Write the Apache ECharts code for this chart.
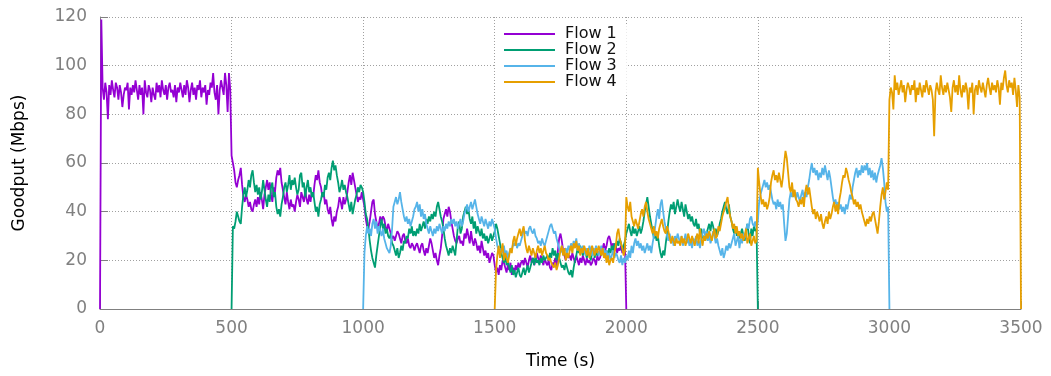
<!DOCTYPE html>
<html>
<head>
<meta charset="utf-8">
<script src="https://cdn.jsdelivr.net/npm/echarts@6/dist/echarts.min.js"></script>
<style>
  html, body { margin: 0; padding: 0; background: #fff; }
  #chart { width: 1051px; height: 376px; }
</style>
</head>
<body>
<div id="chart"></div>
<script>
// Goodput samples, one value every sampleStep seconds, starting at each flow's start time.
const sampleStep = 5;
const flowNames = ['Flow 1', 'Flow 2', 'Flow 3', 'Flow 4'];
const flowStarts = [0, 500, 1000, 1500];
const flowColors = ['#9400d3', '#009e73', '#56b4e9', '#e69f00'];

const flow1Values = [
  0, 119, 91, 86, 93, 89, 78, 92, 88, 94, 90, 87, 93, 91, 86, 92, 89, 83, 88, 91,
  90, 93, 82, 91, 88, 92, 89, 94, 90, 86, 92, 88, 91, 80, 94, 89, 87, 92, 90, 85,
  91, 88, 86, 93, 89, 92, 87, 94, 90, 88, 92, 86, 91, 93, 89, 90, 87, 92, 85, 91,
  89, 93, 90, 87, 92, 88, 94, 91, 85, 90, 93, 88, 91, 86, 92, 90, 94, 87, 91, 89,
  92, 84, 90, 88, 93, 91, 97, 89, 86, 92, 80, 90, 94, 91, 88, 97, 92, 81, 97, 90,
  63, 60, 57, 52, 50, 53, 55, 58, 51, 46, 44, 47, 45, 42, 44, 41, 40, 43, 45, 42,
  46, 43, 48, 45, 41, 47, 50, 53, 49, 52, 47, 44, 50, 48, 54, 57, 55, 58, 52, 49,
  46, 43, 48, 44, 41, 45, 42, 43, 40, 44, 47, 45, 42, 48, 46, 44, 49, 45, 43, 47,
  44, 48, 46, 51, 55, 53, 57, 52, 50, 46, 48, 43, 45, 41, 39, 42, 37, 34, 38, 36,
  40, 42, 46, 44, 41, 46, 43, 45, 48, 52, 55, 51, 56, 53, 50, 47, 44, 46, 45, 48,
  48, 42, 37, 34, 33, 36, 40, 44, 45, 39, 36, 33, 35, 38, 36, 38, 37, 34, 32, 35,
  33, 31, 29, 30, 28, 30, 32, 31, 29, 27, 30, 31, 28, 27, 29, 26, 25, 27, 26, 24,
  26, 27, 25, 23, 26, 27, 24, 22, 25, 23, 26, 29, 27, 24, 21, 23, 20, 18, 22, 25,
  30, 37, 39, 41, 38, 42, 40, 36, 33, 30, 28, 27, 29, 30, 27, 28, 26, 31, 29, 33,
  30, 27, 32, 28, 26, 29, 27, 24, 26, 23, 28, 25, 22, 24, 21, 23, 19, 21, 23, 22,
  18, 15, 17, 14, 18, 16, 20, 19, 17, 15, 18, 16, 19, 14, 17, 15, 18, 16, 19, 17,
  19, 20, 18, 21, 19, 17, 20, 22, 19, 21, 18, 20, 23, 21, 19, 22, 20, 18, 21, 19,
  18, 20, 17, 16, 19, 18, 21, 17, 24, 29, 31, 28, 24, 22, 20, 23, 21, 22, 20, 23,
  21, 19, 22, 20, 18, 21, 19, 22, 20, 18, 21, 19, 20, 18, 19, 21, 20, 18, 22, 20,
  21, 23, 25, 27, 24, 26, 29, 30, 28, 25, 27, 24, 26, 23, 25, 24, 26, 23, 25, 26,
  0
];

const flow2Values = [
  0, 34, 33, 36, 40, 38, 36, 35, 42, 47, 50, 46, 49, 53, 50, 55, 57, 52, 48, 51,
  47, 50, 45, 48, 53, 49, 45, 42, 47, 44, 50, 52, 46, 48, 42, 39, 41, 38, 43, 46,
  50, 52, 48, 51, 55, 49, 53, 51, 54, 50, 47, 49, 55, 56, 50, 52, 46, 50, 53, 48,
  50, 46, 48, 44, 40, 42, 38, 43, 45, 48, 46, 51, 49, 54, 56, 53, 58, 61, 57, 59,
  55, 52, 48, 50, 53, 49, 51, 48, 46, 43, 40, 44, 39, 42, 45, 47, 50, 48, 51, 50,
  48, 44, 39, 37, 33, 28, 24, 21, 19, 17, 22, 26, 30, 34, 37, 33, 35, 31, 33, 30,
  29, 31, 27, 26, 24, 22, 25, 21, 23, 26, 24, 28, 27, 30, 29, 33, 31, 34, 30, 32,
  30, 33, 31, 35, 32, 34, 36, 33, 37, 35, 38, 36, 39, 37, 40, 38, 42, 44, 41, 38,
  36, 33, 29, 26, 24, 22, 25, 23, 26, 24, 22, 28, 34, 36, 31, 33, 38, 40, 42, 39,
  41, 37, 35, 38, 33, 36, 31, 34, 32, 30, 33, 29, 31, 28, 30, 27, 29, 31, 28, 30,
  32, 35, 33, 30, 27, 23, 21, 19, 22, 18, 20, 17, 15, 18, 14, 16, 13, 15, 17, 14,
  13, 15, 17, 14, 16, 18, 15, 17, 19, 21, 18, 22, 19, 20, 18, 21, 19, 22, 20, 21,
  22, 20, 23, 21, 25, 22, 24, 20, 23, 21, 19, 17, 18, 16, 19, 17, 15, 14, 16, 13,
  17, 20, 22, 25, 23, 26, 24, 22, 25, 23, 21, 24, 22, 20, 23, 25, 21, 24, 22, 23,
  24, 22, 25, 23, 21, 24, 22, 25, 23, 26, 24, 27, 25, 28, 26, 29, 27, 24, 26, 28,
  31, 33, 35, 32, 30, 34, 31, 33, 30, 32, 34, 31, 33, 36, 40, 43, 46, 42, 38, 35,
  32, 29, 31, 28, 30, 26, 23, 21, 24, 22, 27, 31, 36, 40, 43, 41, 44, 39, 42, 45,
  42, 40, 44, 41, 38, 43, 40, 37, 39, 36, 38, 35, 34, 37, 33, 35, 31, 33, 29, 30,
  28, 31, 33, 35, 32, 36, 34, 31, 33, 30, 32, 35, 37, 40, 42, 44, 41, 39, 43, 38,
  36, 33, 31, 34, 30, 32, 29, 31, 33, 30, 28, 32, 35, 31, 27, 33, 30, 34, 32, 33,
  0
];

const flow3Values = [
  0, 23, 30, 34, 31, 33, 30, 35, 37, 33, 36, 31, 34, 32, 30, 33, 29, 27, 25, 24,
  23, 26, 33, 42, 44, 46, 43, 45, 48, 44, 41, 38, 36, 38, 35, 37, 34, 36, 38, 41,
  42, 44, 40, 43, 38, 41, 37, 39, 35, 33, 31, 34, 32, 30, 33, 31, 34, 32, 35, 33,
  31, 34, 32, 35, 33, 36, 34, 37, 35, 37, 34, 36, 33, 35, 37, 34, 36, 39, 41, 43,
  40, 42, 44, 41, 43, 45, 42, 39, 37, 35, 38, 36, 34, 37, 35, 33, 36, 34, 37, 35,
  33, 29, 26, 24, 22, 25, 23, 26, 22, 24, 21, 23, 25, 24, 27, 26, 28, 25, 27, 26,
  28, 30, 33, 31, 32, 30, 33, 34, 32, 31, 33, 30, 29, 27, 28, 26, 29, 27, 26, 28,
  30, 32, 34, 35, 33, 31, 32, 29, 27, 25, 23, 26, 22, 24, 25, 23, 26, 24, 27, 25,
  28, 26, 29, 24, 27, 25, 23, 26, 24, 22, 25, 23, 26, 24, 22, 25, 23, 26, 24, 22,
  24, 26, 23, 25, 22, 24, 21, 23, 20, 22, 24, 21, 23, 22, 20, 19, 22, 18, 21, 19,
  22, 20, 24, 21, 26, 23, 27, 29, 26, 28, 25, 27, 24, 26, 23, 25, 27, 24, 26, 23,
  27, 30, 34, 38, 41, 37, 43, 45, 40, 36, 33, 30, 28, 31, 27, 29, 26, 30, 28, 31,
  29, 27, 30, 26, 28, 31, 27, 29, 26, 28, 25, 29, 27, 30, 26, 28, 25, 29, 31, 33,
  30, 32, 28, 31, 27, 29, 32, 30, 27, 29, 26, 24, 22, 25, 21, 23, 26, 24, 27, 25,
  27, 29, 31, 26, 28, 30, 25, 29, 27, 31, 29, 32, 35, 33, 37, 38, 35, 34, 36, 33,
  36, 44, 47, 49, 51, 53, 50, 52, 49, 51, 48, 45, 43, 44, 41, 45, 42, 44, 41, 43,
  35, 28, 31, 38, 45, 48, 46, 49, 47, 45, 48, 46, 44, 47, 49, 45, 48, 46, 50, 53,
  57, 60, 56, 58, 55, 57, 53, 56, 54, 58, 55, 59, 56, 53, 57, 54, 50, 46, 43, 45,
  42, 44, 41, 43, 40, 42, 39, 43, 41, 44, 47, 45, 50, 53, 56, 58, 54, 57, 55, 59,
  56, 59, 57, 60, 55, 58, 54, 57, 53, 56, 52, 55, 57, 59, 62, 58, 52, 44, 40, 42,
  0
];

const flow4Values = [
  0, 16, 22, 26, 21, 24, 27, 20, 23, 21, 19, 22, 25, 23, 28, 30, 26, 29, 31, 33,
  30, 32, 34, 28, 25, 23, 26, 24, 22, 25, 23, 21, 24, 26, 23, 25, 22, 24, 26, 23,
  22, 20, 21, 19, 18, 17, 19, 16, 18, 21, 24, 26, 22, 25, 20, 23, 21, 24, 26, 23,
  27, 25, 28, 24, 26, 22, 25, 23, 26, 24, 22, 25, 21, 23, 26, 24, 22, 25, 23, 26,
  24, 22, 25, 21, 23, 19, 22, 18, 20, 21, 19, 23, 26, 31, 33, 29, 27, 25, 22, 24,
  46, 42, 40, 44, 38, 36, 34, 37, 35, 33, 36, 39, 41, 38, 42, 44, 40, 37, 35, 33,
  31, 34, 30, 32, 29, 33, 35, 37, 34, 32, 31, 34, 32, 29, 27, 30, 28, 26, 29, 27,
  28, 26, 30, 27, 29, 26, 28, 31, 29, 27, 30, 28, 26, 29, 31, 27, 33, 29, 26, 30,
  28, 31, 29, 32, 30, 28, 31, 33, 29, 30, 34, 32, 35, 38, 40, 42, 44, 46, 41, 38,
  36, 33, 35, 31, 34, 30, 32, 29, 31, 28, 30, 33, 27, 29, 31, 26, 28, 30, 27, 28,
  58, 52, 47, 43, 45, 42, 44, 41, 43, 46, 52, 55, 57, 53, 55, 52, 56, 53, 50, 54,
  60, 65, 62, 56, 50, 48, 52, 46, 49, 45, 44, 42, 45, 43, 46, 42, 48, 51, 47, 50,
  46, 42, 39, 41, 37, 40, 38, 36, 39, 35, 33, 36, 38, 35, 40, 37, 39, 42, 44, 40,
  43, 39, 45, 48, 52, 55, 54, 58, 56, 53, 51, 48, 46, 43, 45, 42, 44, 41, 43, 40,
  38, 36, 34, 37, 35, 38, 36, 39, 40, 37, 34, 31, 36, 42, 47, 50, 45, 48, 52, 49,
  86, 91, 89, 82, 96, 90, 93, 88, 91, 94, 89, 92, 85, 90, 93, 91, 88, 92, 90, 94,
  85, 91, 88, 93, 90, 87, 92, 89, 94, 91, 88, 92, 90, 86, 71, 89, 93, 90, 88, 96,
  91, 88, 92, 89, 93, 90, 87, 81, 91, 94, 89, 92, 88, 96, 90, 87, 92, 89, 93, 90,
  82, 91, 89, 93, 80, 90, 92, 88, 94, 91, 89, 93, 90, 87, 92, 95, 91, 88, 93, 90,
  92, 89, 94, 91, 84, 93, 90, 95, 98, 92, 89, 94, 91, 93, 88, 95, 90, 83, 92, 87,
  0
];

const flowValues = [flow1Values, flow2Values, flow3Values, flow4Values];

const axisGray = '#808080';
const gridStyle = { color: '#a0a0a0', width: 1, type: [1, 2] };
const fontFamily = 'DejaVu Sans';

const series = flowNames.map((name, k) => ({
  name: name,
  type: 'line',
  showSymbol: false,
  symbol: 'none',
  sampling: null,
  lineStyle: { color: flowColors[k], width: 1.8 },
  itemStyle: { color: flowColors[k] },
  emphasis: { disabled: true },
  data: flowValues[k].map((v, i) => [flowStarts[k] + i * sampleStep, v])
}));

const chart = echarts.init(document.getElementById('chart'), null, { renderer: 'canvas' });
chart.setOption({
  animation: false,
  backgroundColor: '#fff',
  textStyle: { fontFamily: fontFamily },
  grid: { left: 100, right: 30, top: 17, bottom: 67, containLabel: false },
  legend: {
    data: flowNames,
    orient: 'vertical',
    left: 495,
    top: 26,
    icon: 'rect',
    itemWidth: 51,
    itemHeight: 2,
    itemGap: 0,
    padding: [0, 10, 4, 9],
    backgroundColor: '#fff',
    selectedMode: false,
    textStyle: { fontFamily: fontFamily, fontSize: 16, color: '#111', lineHeight: 13.5, padding: [0, 0, 0, 5] }
  },
  xAxis: {
    type: 'value',
    min: 0,
    max: 3500,
    interval: 500,
    name: 'Time (s)',
    nameLocation: 'middle',
    nameGap: 44,
    nameTextStyle: { fontFamily: fontFamily, fontSize: 17, color: '#000' },
    axisLine: { show: true, lineStyle: { color: axisGray, width: 1 } },
    axisTick: { show: true, inside: true, length: 8, lineStyle: { color: axisGray } },
    axisLabel: { color: axisGray, fontSize: 17, margin: 11, fontFamily: fontFamily, formatter: v => String(v) },
    splitLine: { show: true, lineStyle: gridStyle }
  },
  yAxis: {
    type: 'value',
    min: 0,
    max: 120,
    interval: 20,
    name: 'Goodput (Mbps)',
    nameLocation: 'middle',
    nameGap: 72,
    nameRotate: 90,
    nameTextStyle: { fontFamily: fontFamily, fontSize: 17, color: '#000' },
    axisLine: { show: true, lineStyle: { color: axisGray, width: 1 } },
    axisTick: { show: true, inside: true, length: 8, lineStyle: { color: axisGray } },
    axisLabel: { color: axisGray, fontSize: 17, margin: 13, fontFamily: fontFamily, formatter: v => String(v) },
    splitLine: { show: true, lineStyle: gridStyle }
  },
  series: series
});
</script>
</body>
</html>
